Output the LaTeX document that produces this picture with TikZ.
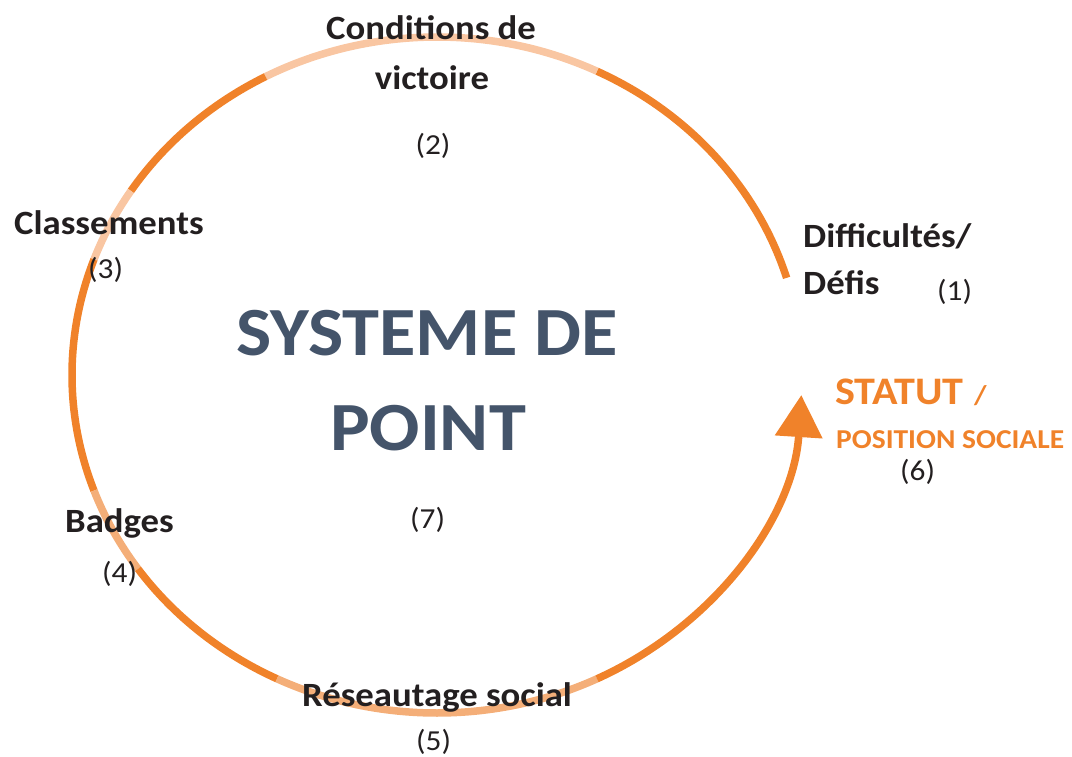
\documentclass[tikz,border=0pt]{standalone}
\usepackage{fontspec}
\setmainfont{Carlito}[FakeStretch=1.08]
\usetikzlibrary{arrows.meta}
\definecolor{dorange}{HTML}{F0822A}
\definecolor{lorangeA}{HTML}{F9C6A2}
\definecolor{lorangeB}{HTML}{F4AE78}
\definecolor{slate}{HTML}{44546A}
\definecolor{ink}{HTML}{231F20}
\tikzset{
  ring/.style={line width=7.5pt},
  lbl/.style={font=\fontsize{34}{36}\selectfont\bfseries, text=ink, inner sep=0pt},
  num/.style={font=\fontsize{29}{31}\selectfont, text=ink, inner sep=0pt},
  title/.style={font=\fontsize{69}{74}\selectfont\bfseries, text=slate, inner sep=0pt},
  orangelbl/.style={text=dorange, inner sep=0pt}
}
\newcommand{\ringarc}[3]{\draw[ring,#1] (437pt,-375pt) ++(#2:365pt and 338pt) arc[start angle=#2,end angle=#3,x radius=365pt,y radius=338pt];}
\begin{document}
\begin{tikzpicture}
\useasboundingbox (0,0) rectangle (1072pt,-756pt);
% ring segments
\ringarc{dorange}{16.7}{64}
\ringarc{lorangeA}{64}{118}
\ringarc{dorange}{118}{147}
\ringarc{lorangeA}{147}{160}
\ringarc{dorange}{160}{200}
\ringarc{lorangeB}{200}{215}
\ringarc{dorange}{215}{244}
\ringarc{lorangeB}{244}{296}
\draw[ring,dorange,-{Triangle[length=42pt,width=46pt]}] (437pt,-375pt) ++(296:365pt and 338pt) arc[start angle=296,end angle=356.6,x radius=365pt,y radius=338pt];
% labels
\node[lbl,anchor=base] (cond1) at (431pt,-39pt) {Conditions de};
\node[lbl,anchor=base] (cond2) at (432pt,-89pt) {victoire};
\node[num,anchor=base] (n2) at (433pt,-154pt) {(2)};
\node[lbl,anchor=base west] (class) at (14pt,-234pt) {Classements};
\node[num,anchor=base west] (n3) at (88pt,-278pt) {(3)};
\node[lbl,anchor=base west] (diff1) at (803pt,-247pt) {Difficultés/};
\node[lbl,anchor=base west] (diff2) at (803pt,-294pt) {Défis};
\node[num,anchor=base west] (n1) at (937pt,-300pt) {(1)};
\node[orangelbl,anchor=base west,font=\fontsize{39}{42}\selectfont\bfseries] (stat1) at (835pt,-404pt) {STATUT};
\node[orangelbl,anchor=base west,font=\fontsize{27}{30}\selectfont\bfseries] (slash) at (974pt,-404pt) {/};
\node[orangelbl,anchor=base west,font=\fontsize{27.3}{30}\selectfont\bfseries] (stat2) at (836pt,-448pt) {POSITION SOCIALE};
\node[num,anchor=base west] (n6) at (900pt,-480pt) {(6)};
\node[lbl,anchor=base west] (badges) at (65pt,-532pt) {Badges};
\node[num,anchor=base west] (n4) at (102pt,-582pt) {(4)};
\node[lbl,anchor=base west] (reseau) at (302pt,-706pt) {Réseautage social};
\node[num,anchor=base west] (n5) at (416pt,-750pt) {(5)};
\node[num,anchor=base west] (n7) at (410pt,-528pt) {(7)};
\node[title,anchor=base] (sys1) at (427pt,-355pt) {SYSTEME DE};
\node[title,anchor=base] (sys2) at (428pt,-450pt) {POINT};
\end{tikzpicture}
\end{document}
